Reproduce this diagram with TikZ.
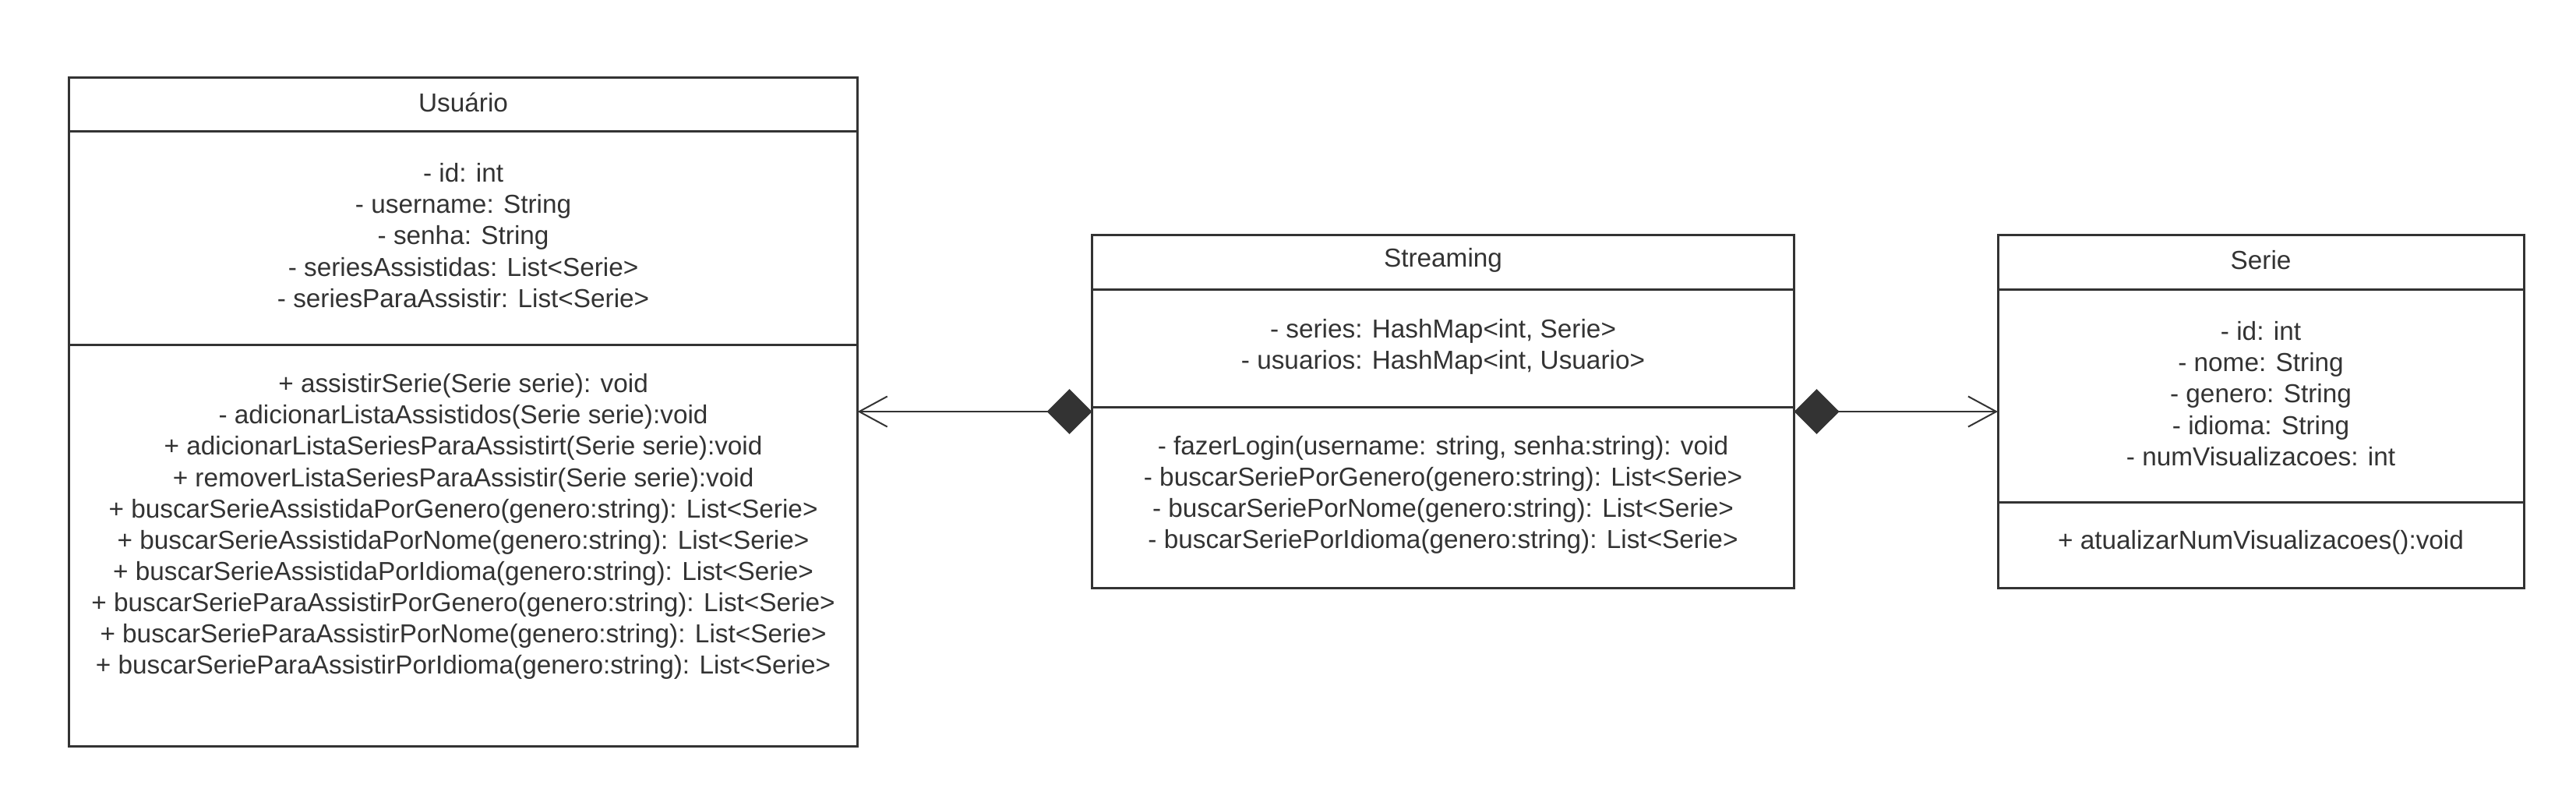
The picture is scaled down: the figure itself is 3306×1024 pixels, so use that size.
\documentclass[tikz,border=0pt]{standalone}
\usepackage{fontspec}
\setmainfont{Liberation Sans}
\usetikzlibrary{arrows.meta}
\definecolor{ink}{HTML}{333333}
\begin{document}
\begin{tikzpicture}[x=0.3pt,y=-0.3pt,
  classbox/.style={draw=ink, line width=0.9pt, rectangle, inner sep=0pt, outer sep=0pt},
  sepline/.style={draw=ink, line width=0.9pt},
  txt/.style={text=ink, align=center, inner sep=0pt, font=\fontsize{10}{12.03}\selectfont},
  assoc/.style={draw=ink, line width=0.6pt, {Diamond[length=17.4pt,width=17.3pt,fill=ink]}-{Straight Barb[length=10.8pt,width=11.7pt]}}]
\fill[white] (0,0) rectangle (3306,1024);
\useasboundingbox (0,0) rectangle (3306,1024);

% Usuario
\node[classbox, minimum width=303.6pt, minimum height=257.4pt] (usuario) at (594.6,528) {};
\draw[sepline] (88.6,168.6) -- (1100.6,168.6);
\draw[sepline] (88.6,442.5) -- (1100.6,442.5);
\node[txt] (usuarioT) at (594.6,131) {Usuário};
\node[txt] (usuarioA) at (594.6,302) {- id: int\\- username: String\\- senha: String\\- seriesAssistidas: List<Serie>\\- seriesParaAssistir: List<Serie>};
\node[txt] (usuarioM) at (594.6,675.5) {+ assistirSerie(Serie serie): void\\- adicionarListaAssistidos(Serie serie):void\\+ adicionarListaSeriesParaAssistirt(Serie serie):void\\+ removerListaSeriesParaAssistir(Serie serie):void\\+ buscarSerieAssistidaPorGenero(genero:string): List<Serie>\\+ buscarSerieAssistidaPorNome(genero:string): List<Serie>\\+ buscarSerieAssistidaPorIdioma(genero:string): List<Serie>\\+ buscarSerieParaAssistirPorGenero(genero:string): List<Serie>\\+ buscarSerieParaAssistirPorNome(genero:string): List<Serie>\\+ buscarSerieParaAssistirPorIdioma(genero:string): List<Serie>};

% Streaming
\node[classbox, minimum width=270.3pt, minimum height=135.8pt] (streaming) at (1852,528) {};
\draw[sepline] (1401.5,371) -- (2302.5,371);
\draw[sepline] (1401.5,522.3) -- (2302.5,522.3);
\node[txt] (streamingT) at (1852,334) {Streaming};
\node[txt] (streamingA) at (1852,445) {- series: HashMap<int, Serie>\\- usuarios: HashMap<int, Usuario>};
\node[txt] (streamingM) at (1852,635) {- fazerLogin(username: string, senha:string): void\\- buscarSeriePorGenero(genero:string): List<Serie>\\- buscarSeriePorNome(genero:string): List<Serie>\\- buscarSeriePorIdioma(genero:string): List<Serie>};

% Serie
\node[classbox, minimum width=202.5pt, minimum height=135.8pt] (serie) at (2901.5,528) {};
\draw[sepline] (2564,371) -- (3239,371);
\draw[sepline] (2564,644) -- (3239,644);
\node[txt] (serieT) at (2901.5,334) {Serie};
\node[txt] (serieA) at (2901.5,505) {- id: int\\- nome: String\\- genero: String\\- idioma: String\\- numVisualizacoes: int};
\node[txt] (serieM) at (2901.5,696) {+ atualizarNumVisualizacoes():void};

% connectors
\draw[assoc] (streaming.west) -- (usuario.east);
\draw[assoc] (streaming.east) -- (serie.west);
\end{tikzpicture}
\end{document}
